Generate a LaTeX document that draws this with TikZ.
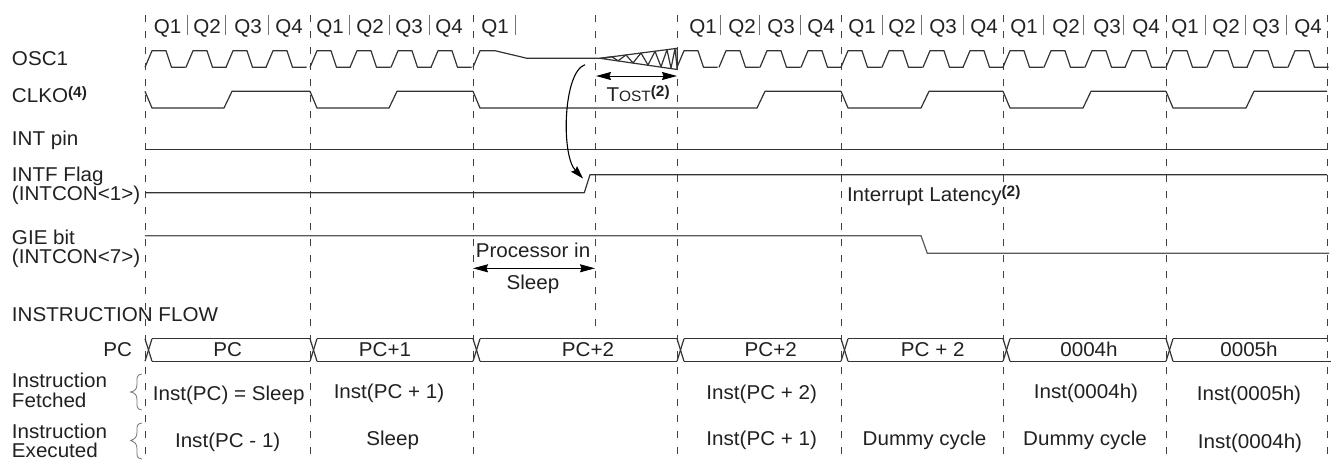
\documentclass[tikz,border=0pt]{standalone}
\usepackage{fontspec}
\setmainfont[FakeStretch=1.03]{Liberation Sans}
\usetikzlibrary{arrows.meta}
\definecolor{ink}{gray}{0.13}
\newcommand{\sig}[1]{\raisebox{5pt}{\bfseries\fontsize{15}{16}\selectfont #1}}
\tikzset{
  x=1pt,y=-1pt,
  every node/.style={inner sep=0pt,outer sep=0pt,text=ink,font=\fontsize{20}{22}\selectfont},
  lbl/.style={anchor=base west},
  mid/.style={anchor=base},
  wave/.style={draw=black!80,line width=1.2pt,line join=round},
  guide/.style={draw=black!75,line width=1pt,dash pattern=on 7pt off 9pt},
  qbar/.style={draw=black!55,line width=0.9pt},
  brc/.style={draw=black!55,line width=0.8pt},
  dim/.style={draw=black,line width=1pt,{Stealth[length=15pt,width=8pt,inset=1.5pt]}-{Stealth[length=15pt,width=8pt,inset=1.5pt]}},
}
\begin{document}
\begin{tikzpicture}
\useasboundingbox[fill=white] (0,0) rectangle (1336,459);
% vertical guides
\foreach \x in {145,310,473,677,841,1003,1166,1327}
  \draw[guide] (\x,15) -- (\x,459);
\draw[guide] (595,15) -- (595,327);
% quarter labels
\foreach \x/\q/\n in {167.7/Q1/a1,207/Q2/a2,248/Q3/a3,289/Q4/a4,
  330/Q1/b1,370/Q2/b2,409/Q3/b3,449/Q4/b4,495/Q1/c1,
  703/Q1/d1,742/Q2/d2,781/Q3/d3,821/Q4/d4,
  862/Q1/e1,902/Q2/e2,943/Q3/e3,984/Q4/e4,
  1024/Q1/f1,1066/Q2/f2,1107/Q3/f3,1146/Q4/f4,
  1185/Q1/g1,1226/Q2/g2,1266/Q3/g3,1308/Q4/g4}
  \node[mid] (q\n) at (\x,33) {\q};
\foreach \x in {187.7,225,268,349,389,429,515,720,759,800,882,921,963,1043,1083,1123,1205,1245,1286}
  \draw[qbar] (\x,15) -- (\x,35);
% signal names
\node[lbl] (osc) at (12,65) {OSC1};
\node[lbl] (clko) at (12,102.5) {CLKO\sig{(4)}};
\node[lbl] (intp) at (12,145) {INT pin};
\node[lbl] (intf) at (12,181) {INTF Flag};
\node[lbl] (intc) at (12,200) {(INTCON<1>)};
\node[lbl] (gie) at (12,244) {GIE bit};
\node[lbl] (intd) at (12,263) {(INTCON<7>)};
\node[lbl] (flow) at (12,321) {INSTRUCTION FLOW};
\node[anchor=base east] (pcl) at (132,356) {PC};
\node[lbl] (if1) at (12,387) {Instruction};
\node[lbl] (if2) at (12,407) {Fetched};
\node[lbl] (ie1) at (12,438) {Instruction};
\node[lbl] (ie2) at (12,457) {Executed};
% OSC1
\foreach \s in {145,186,226,266,310,350,391,431,677,719,760,801,841,882,923,963,1003,1044,1085,1125,1166,1207,1247,1288}
  \draw[wave] (\s,67.3) -- (\s+7,50.7) -- (\s+21,50.7) -- (\s+26.5,67.3) -- (\s+40.5,67.3);
\draw[wave] (473,67.3) -- (480,50.7) -- (495,50.7) -- (527,58.3) -- (600,58.3)
  -- (612,56.8) -- (618,60.8) -- (626,55) -- (633,62.9) -- (641,53) -- (648,65)
  -- (655,51.3) -- (661,66.8) -- (667,49.7) -- (671,68.2) -- (675,48.7) -- (677.3,69.5);
\draw[wave] (600,58.3) -- (677.3,48.3) -- (677.3,69.5) -- cycle;
% CLKO
\foreach \s/\r/\e in {145/224/310,310/389/473,473/757/841,841/921/1003,1003/1083/1166,1166/1246/1327}
  \draw[wave] (\s,91.3) -- (\s+7,108) -- (\r,108) -- (\r+8,91.3) -- (\e,91.3);
% level lines
\draw[wave] (145,149.3) -- (1327,149.3);
\draw[wave] (145,192.7) -- (584.3,192.7) -- (590,174.7) -- (1327,174.7);
\draw[wave,draw=black!65] (145,235.7) -- (921,235.7) -- (927.3,253.3) -- (1329,253.3);
% annotations
\coordinate (wakeA) at (585,64.7);
\coordinate (wakeB) at (583,178.5);
\draw[draw=black,line width=1.1pt,-{Stealth[length=13pt,width=8pt,inset=1.5pt]}] (wakeA) .. controls (563,72) and (561,155) .. (wakeB);
\coordinate (tostL) at (596,76);
\coordinate (tostR) at (677,76);
\draw[dim] (tostL) -- (tostR);
\node[lbl] (tost) at (606.5,101) {T{\fontsize{15}{17}\selectfont OST}\sig{(2)}};
\node[lbl] (lat) at (847,201.5) {Interrupt Latency\sig{(2)}};
\node[mid] (sl1) at (533,257) {Processor in};
\node[mid] (sl2) at (533,289) {Sleep};
\coordinate (slL) at (473,268.3);
\coordinate (slR) at (595,268.3);
\draw[dim] (slL) -- (slR);
% PC bus
\foreach \s/\e in {145/310,310/473,473/677,677/841,841/1003,1003/1166,1166/1327} {
  \draw[wave] (\s,338.7) -- (\s+7,361.3);
  \draw[wave] (\s,361.3) -- (\s+7,338.7);
  \draw[wave] (\s+7,338.7) -- (\e,338.7);
  \draw[wave] (\s+7,361.3) -- (\e,361.3);
}
\draw[wave] (1327,361.3) -- (1331,361.3);
\foreach \x/\t/\n in {227.7/PC/p1,385/PC+1/p2,588/PC+2/p3,770.7/PC+2/p4,932.7/PC + 2/p5,1089/0004h/p6,1249/0005h/p7}
  \node[mid] (\n) at (\x,356.5) {\t};
% instruction rows
\foreach \x/\y/\t/\n in {228.7/400/Inst(PC) = Sleep/r1,389/398/Inst(PC + 1)/r2,761.7/399/Inst(PC + 2)/r3,1086/398/Inst(0004h)/r4,1249/400/Inst(0005h)/r5,
  227.7/447/Inst(PC - 1)/s1,392.7/445/Sleep/s2,761.7/445/Inst(PC + 1)/s3,924.5/445/Dummy cycle/s4,1085/445/Dummy cycle/s5,1250/448/Inst(0004h)/s6}
  \node[mid] (\n) at (\x,\y) {\t};
% braces
\draw[brc] (141.7,374) .. controls (136,375) and (137,378) .. (137,384) .. controls (137,389) and (135,391) .. (130.7,392)
  .. controls (135,393) and (137,395) .. (137,400) .. controls (137,406) and (136,409) .. (141.7,410);
\draw[brc] (141.7,423) .. controls (136,424) and (137,427) .. (137,432) .. controls (137,437) and (135,439) .. (130.7,440.5)
  .. controls (135,442) and (137,444) .. (137,449) .. controls (137,455) and (136,458) .. (141.7,459);
\end{tikzpicture}
\end{document}
